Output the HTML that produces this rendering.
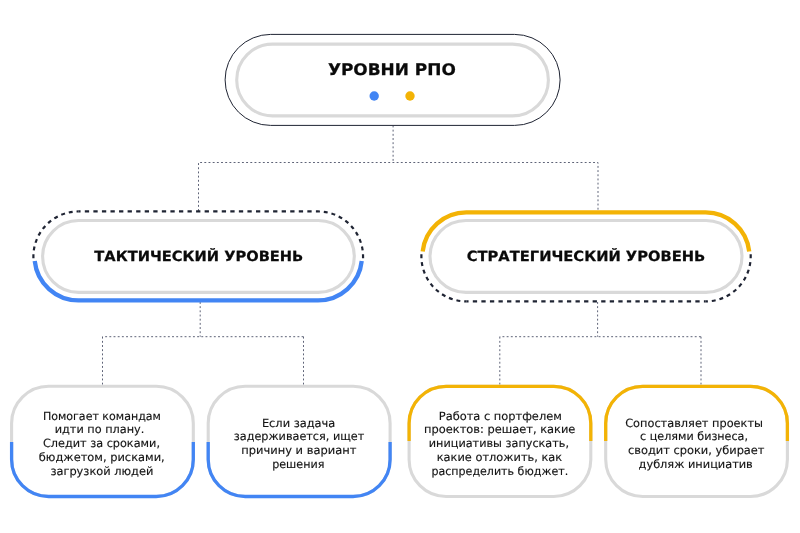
<!DOCTYPE html>
<html lang="ru">
<head>
<meta charset="utf-8">
<title>Уровни РПО</title>
<style>
html,body{margin:0;padding:0;background:#fff;}
body{width:800px;height:533px;overflow:hidden;}
svg{display:block;will-change:transform;}
text{text-rendering:geometricPrecision;font-family:"DejaVu Sans","Liberation Sans",sans-serif;fill:#111;}
.b{font-weight:bold;fill:#0a0a0a;stroke:#0a0a0a;stroke-width:0.25px;}
.t{font-size:11.4px;fill:#141414;stroke:#141414;stroke-width:0.15px;}
.conn{fill:none;stroke:#555b70;stroke-width:0.95;stroke-dasharray:1.9 2.28;}
.darc{fill:none;stroke:#1f2433;stroke-width:2.2;stroke-dasharray:3.9 3.92;stroke-dashoffset:-2.85;}
.dstr{fill:none;stroke:#1f2433;stroke-width:2.2;stroke-dasharray:4.3 4.259;stroke-dashoffset:2.15;}
.gray{fill:none;stroke:#d9d9d9;stroke-width:3.1;}
.blue{fill:none;stroke:#4285f4;}
.yel{fill:none;stroke:#f3b305;}
</style>
</head>
<body>
<svg width="800" height="533" viewBox="0 0 800 533">
<rect width="800" height="533" fill="#fff"/>

<!-- connectors -->
<path class="conn" d="M393.1 125.5V162.5M198.5 211V162.5H598V211"/>
<path class="conn" d="M200.2 302V336.7M102.5 336.7V384.8M303.5 336.7V384.8"/>
<path class="conn" stroke-dashoffset="1.5" d="M102.5 336.7H303.5"/>
<path class="conn" d="M597.6 302V336.7M499.8 336.7V384.8M701 336.7V384.8"/>
<path class="conn" stroke-dashoffset="1.5" d="M499.8 336.7H701"/>

<!-- top pill -->
<rect x="225.1" y="34.4" width="335" height="91" rx="45.5" fill="#fff" stroke="#1f2433" stroke-width="1"/>
<rect x="236.7" y="44.15" width="311.7" height="71.7" rx="35.85" class="gray"/>
<text class="b" x="327.9" y="75.2" font-size="16" textLength="127.9" lengthAdjust="spacingAndGlyphs">УРОВНИ РПО</text>
<circle cx="374.2" cy="96" r="4.7" fill="#4285f4"/>
<circle cx="410" cy="96" r="4.7" fill="#f3b305"/>

<!-- tactical pill -->
<path class="darc" d="M33.4 261 V256.47 A45 45 0 0 1 78.4 211.45"/>
<path class="darc" d="M363.05 261 V256.47 A45 45 0 0 0 318.05 211.45"/>
<path class="dstr" d="M78.4 211.45 H318.05"/>
<path class="blue" stroke-width="4.3" d="M34.73 261 A43.9 43.9 0 0 0 78.4 300.35 H318.05 A43.9 43.9 0 0 0 361.72 261"/>
<rect x="42.6" y="220.5" width="311.7" height="71.9" rx="35.95" class="gray"/>
<text class="b" x="94.3" y="261.2" font-size="14" textLength="209" lengthAdjust="spacingAndGlyphs">ТАКТИЧЕСКИЙ УРОВЕНЬ</text>

<!-- strategic pill -->
<path class="darc" d="M421.4 251.5 V256.4 A45 45 0 0 0 466.4 301.4"/>
<path class="darc" d="M750.7 251.5 V256.4 A45 45 0 0 1 705.7 301.4"/>
<path class="dstr" d="M466.4 301.4 H705.7"/>
<path class="yel" stroke-width="4.3" d="M422.67 251.5 A43.9 43.9 0 0 1 466.3 212.45 H705.6 A43.9 43.9 0 0 1 749.23 251.5"/>
<rect x="430" y="220.5" width="312" height="71.9" rx="35.95" class="gray"/>
<text class="b" x="466.8" y="261.1" font-size="14" textLength="238.4" lengthAdjust="spacingAndGlyphs">СТРАТЕГИЧЕСКИЙ УРОВЕНЬ</text>

<!-- box 1 -->
<rect x="11.6" y="386.3" width="181.7" height="110.2" rx="37" class="gray"/>
<path class="blue" stroke-width="3.3" d="M11.6 442 V459.5 A37 37 0 0 0 48.6 496.5 H156.3 A37 37 0 0 0 193.3 459.5 V442"/>
<text class="t" x="42.9" y="419.5" textLength="118.0" lengthAdjust="spacingAndGlyphs">Помогает командам</text>
<text class="t" x="54.7" y="433.3" textLength="89.7" lengthAdjust="spacingAndGlyphs">идти по плану.</text>
<text class="t" x="42.9" y="447.1" textLength="117.1" lengthAdjust="spacingAndGlyphs">Следит за сроками,</text>
<text class="t" x="38.8" y="460.9" textLength="125.9" lengthAdjust="spacingAndGlyphs">бюджетом, рисками,</text>
<text class="t" x="50.4" y="474.7" textLength="103.0" lengthAdjust="spacingAndGlyphs">загрузкой людей</text>

<!-- box 2 -->
<rect x="208.2" y="386.3" width="181.9" height="110.2" rx="37" class="gray"/>
<path class="blue" stroke-width="3.3" d="M208.2 442 V459.5 A37 37 0 0 0 245.2 496.5 H353.1 A37 37 0 0 0 390.1 459.5 V442"/>
<text class="t" x="261.9" y="426.5" textLength="73.4" lengthAdjust="spacingAndGlyphs">Если задача</text>
<text class="t" x="233.8" y="440.3" textLength="130.5" lengthAdjust="spacingAndGlyphs">задерживается, ищет</text>
<text class="t" x="241.3" y="454.1" textLength="115.0" lengthAdjust="spacingAndGlyphs">причину и вариант</text>
<text class="t" x="272.2" y="467.9" textLength="52.2" lengthAdjust="spacingAndGlyphs">решения</text>

<!-- box 3 -->
<rect x="409.1" y="386.3" width="181.7" height="110.2" rx="37" class="gray"/>
<path class="yel" stroke-width="3.3" d="M409.1 441 V423.3 A37 37 0 0 1 446.1 386.3 H553.8 A37 37 0 0 1 590.8 423.3 V441"/>
<text class="t" x="438.8" y="419.5" textLength="123.0" lengthAdjust="spacingAndGlyphs">Работа с портфелем</text>
<text class="t" x="424.0" y="433.3" textLength="151.4" lengthAdjust="spacingAndGlyphs">проектов: решает, какие</text>
<text class="t" x="428.8" y="447.1" textLength="140.2" lengthAdjust="spacingAndGlyphs">инициативы запускать,</text>
<text class="t" x="436.7" y="460.9" textLength="125.5" lengthAdjust="spacingAndGlyphs">какие отложить, как</text>
<text class="t" x="431.4" y="474.7" textLength="136.8" lengthAdjust="spacingAndGlyphs">распределить бюджет.</text>

<!-- box 4 -->
<rect x="605.7" y="386.3" width="181.7" height="110.2" rx="37" class="gray"/>
<path class="yel" stroke-width="3.3" d="M605.7 441 V423.3 A37 37 0 0 1 642.7 386.3 H750.4 A37 37 0 0 1 787.4 423.3 V441"/>
<text class="t" x="625.2" y="426.5" textLength="137.8" lengthAdjust="spacingAndGlyphs">Сопоставляет проекты</text>
<text class="t" x="640.1" y="440.3" textLength="107.9" lengthAdjust="spacingAndGlyphs">с целями бизнеса,</text>
<text class="t" x="628.0" y="454.1" textLength="136.5" lengthAdjust="spacingAndGlyphs">сводит сроки, убирает</text>
<text class="t" x="638.6" y="467.9" textLength="114.2" lengthAdjust="spacingAndGlyphs">дубляж инициатив</text>
</svg>
</body>
</html>
